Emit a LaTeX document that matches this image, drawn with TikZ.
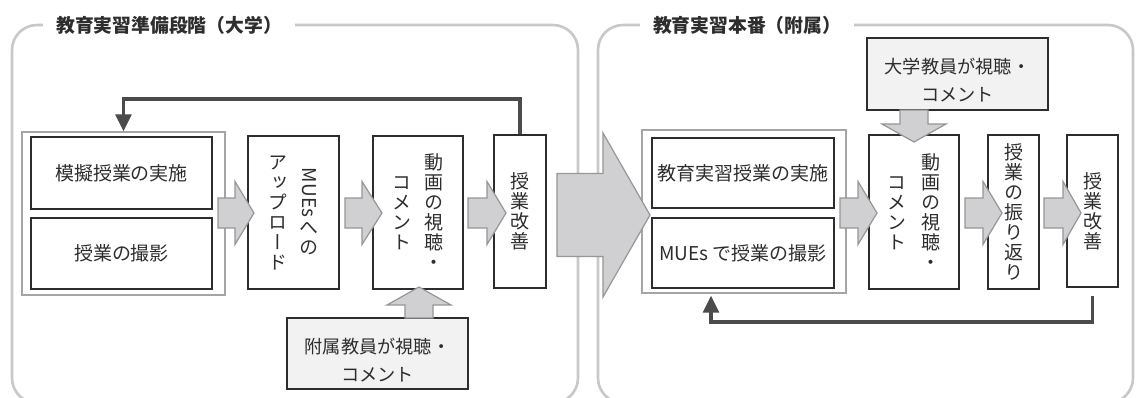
\documentclass[tikz,border=0pt]{standalone}
\usepackage{fontspec}
\usepackage{graphicx}
\usetikzlibrary{arrows.meta,calc}
\setmainfont{Noto Sans CJK JP}
\newfontfamily\jp{Noto Sans CJK JP}
\newfontfamily\jpv{Noto Sans CJK JP}[RawFeature=+vert]
\definecolor{panelc}{RGB}{200,200,200}
\definecolor{grpc}{RGB}{165,165,165}
\definecolor{boxc}{RGB}{45,45,45}
\definecolor{txtc}{RGB}{45,45,45}
\definecolor{arrf}{RGB}{208,208,210}
\definecolor{arrd}{RGB}{150,150,152}
\definecolor{loopc}{RGB}{75,75,75}
\definecolor{cfill}{RGB}{242,242,242}
\newcommand\vone[1]{\raisebox{-3pt}[0pt][0pt]{#1}}
\ExplSyntaxOn
\NewDocumentCommand\vstack{m}
 {
  \tl_clear:N \l_tmpa_tl
  \tl_map_inline:nn {#1} { \tl_put_right:Nn \l_tmpa_tl { \vone{##1} \\ } }
  \begin{tabular}{@{}c@{}} \l_tmpa_tl \end{tabular}
 }
\ExplSyntaxOff
\newcommand\harr[6]{\draw[barrow] (#1,#4-#5) -- (#2,#4-#5) -- (#2,#4-#6) -- (#3,#4) -- (#2,#4+#6) -- (#2,#4+#5) -- (#1,#4+#5) -- cycle;}
\newcommand\varr[6]{\draw[barrow] (#1-#5,#2) -- (#1-#5,#3) -- (#1-#6,#3) -- (#1,#4) -- (#1+#6,#3) -- (#1+#5,#3) -- (#1+#5,#2) -- cycle;}
\begin{document}
\begin{tikzpicture}[x=1pt,y=-1pt,
 panel/.style={draw=panelc,line width=2.6pt,rounded corners=25pt},
 ttl/.style={fill=white,text=txtc,font=\jp\bfseries\fontsize{18.8}{20}\selectfont,inner xsep=13pt,inner ysep=2pt},
 grp/.style={draw=grpc,line width=1.4pt,fill=white,inner sep=0pt},
 hbox/.style={draw=boxc,line width=1.3pt,fill=white,inner sep=0pt,text=txtc,font=\jp\fontsize{19}{20}\selectfont},
 vbox/.style={hbox,font=\jpv\fontsize{19}{20}\selectfont},
 cbox/.style={draw=boxc,line width=1.2pt,fill=cfill,inner sep=0pt},
 ctext/.style={text=txtc,font=\jp\fontsize{18.2}{28}\selectfont,align=center,inner sep=0pt},
 barrow/.style={draw=arrd,line width=1.2pt,fill=arrf,line join=miter},
 fb/.style={draw=loopc,line width=3.2pt,-{Triangle[width=16pt,length=17pt]}}
]
\useasboundingbox (0,0) rectangle (1136,397);
\fill[white] (0,0) rectangle (1136,397);
\begin{scope}
\clip (0,0) rectangle (1136,397);
\draw[panel] (12,25) rectangle (578,403);
\draw[panel] (598,25) rectangle (1133,403);
\end{scope}
\node[ttl] (t1) at (169,25) {教育実習準備段階（大学）};
\node[ttl] (t2) at (747,25) {教育実習本番（附属）};
% left panel
\node[grp,minimum width=203,minimum height=163] (g1) at (123.5,213.5) {};
\node[hbox,minimum width=181,minimum height=72] (b1) at (121.5,173) {模擬授業の実施};
\node[hbox,minimum width=181,minimum height=71] (b2) at (121.5,253.5) {授業の撮影};
\node[vbox,minimum width=91,minimum height=153] (up) at (293.5,212.5)
 {\vstack{ア{ッ}プロ{ー}ド}\hspace{12pt}\begin{tabular}{@{}c@{}}\rotatebox[origin=c]{-90}{MUEs}\\[8pt]\vone{へ}\\\vone{の}\end{tabular}};
\node[vbox,minimum width=90,minimum height=153] (vid) at (418,212.5)
 {\vstack{コメント}\hspace{13pt}\vstack{動画の視聴・}};
\node[vbox,minimum width=52,minimum height=153] (kai) at (520,211.5) {\vstack{授業改善}};
\node[cbox,minimum width=181,minimum height=71] (c1) at (377.5,353.5) {};
\node[ctext] (c1t) at ([yshift=-7pt]c1.center) {附属教員が視聴・\\コメント};
% right panel
\node[grp,minimum width=204,minimum height=163] (g2) at (744,211.5) {};
\node[hbox,minimum width=182,minimum height=70] (b3) at (743,173) {教育実習授業の実施};
\node[hbox,minimum width=182,minimum height=70] (b4) at (743,253) {MUEs で授業の撮影};
\node[vbox,minimum width=90,minimum height=154] (vid2) at (914,212)
 {\vstack{コメント}\hspace{15pt}\vstack{動画の視聴・}};
\node[vbox,minimum width=51,minimum height=154] (furi) at (1013.5,212) {\vstack{授業の振り返り}};
\node[vbox,minimum width=51,minimum height=152] (kai2) at (1092.5,211) {\vstack{授業改善}};
\node[cbox,minimum width=181,minimum height=72] (c2) at (957.5,74) {};
\node[ctext] (c2t) at ([yshift=-6pt]c2.center) {大学教員が視聴・\\コメント};
% feedback loops
\coordinate (lt) at (0,99);
\coordinate (rb) at (0,322);
\draw[fb] (kai.north) -- (kai.north |- lt) -| (g1.north);
\draw[fb,shorten <=8pt,shorten >=2pt] (kai2.south) -- (kai2.south |- rb) -| ([xshift=-33pt]g2.south);
% block arrows
\harr{218}{235}{254}{213}{15}{31.5}
\harr{345}{362}{382}{213}{15}{31.5}
\harr{468}{487}{506}{213}{15}{31.5}
\harr{840}{858}{877}{213}{15}{31.5}
\harr{965}{983}{1002}{213}{15}{31.5}
\harr{1044}{1063}{1081}{213}{15}{31.5}
\harr{557}{603}{650}{215}{41.5}{82}
\varr{419}{318}{305}{287}{14}{32}
\varr{914}{110}{124}{142}{14}{32}
\end{tikzpicture}
\end{document}
